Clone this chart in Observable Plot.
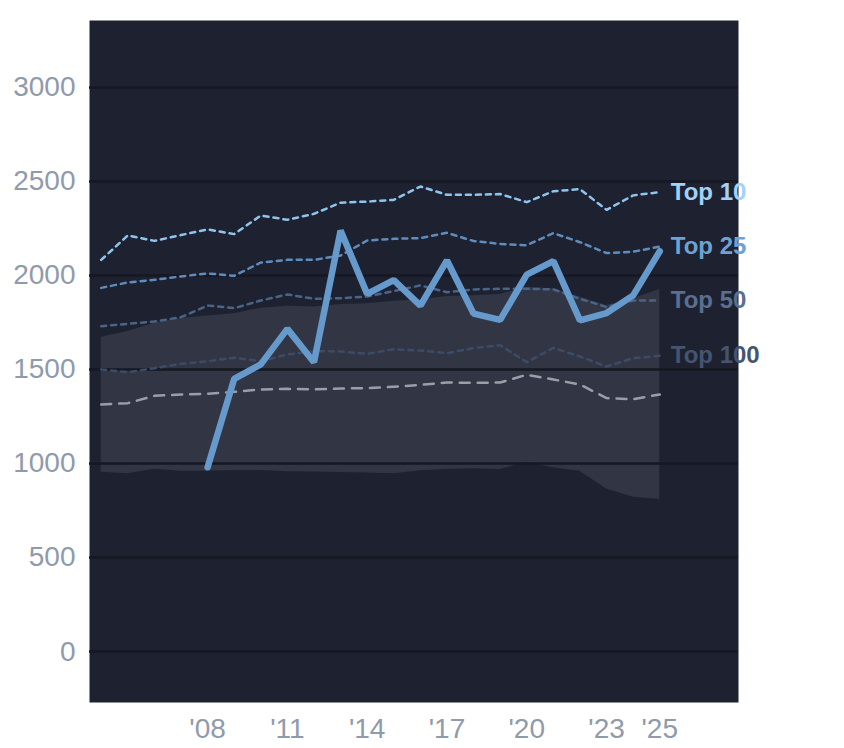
<!DOCTYPE html>
<html>
<head>
<meta charset="utf-8">
<script src="https://cdn.jsdelivr.net/npm/d3@7"></script>
<script src="https://cdn.jsdelivr.net/npm/@observablehq/plot@0.6"></script>
<style>
  html, body { margin: 0; padding: 0; background: #ffffff; }
  #chart svg { display: block; }
</style>
</head>
<body>
<div id="chart"></div>
<script>
const years = [2004, 2005, 2006, 2007, 2008, 2009, 2010, 2011, 2012, 2013, 2014, 2015, 2016, 2017, 2018, 2019, 2020, 2021, 2022, 2023, 2024, 2025];
const top10 = [2083, 2213, 2184, 2215, 2245, 2220, 2319, 2296, 2328, 2387, 2393, 2402, 2473, 2429, 2429, 2433, 2390, 2448, 2459, 2349, 2426, 2443];
const top25 = [1934, 1963, 1977, 1995, 2011, 1998, 2069, 2083, 2083, 2106, 2186, 2195, 2199, 2227, 2183, 2168, 2161, 2225, 2177, 2119, 2126, 2154];
const top50 = [1730, 1743, 1755, 1778, 1840, 1826, 1867, 1899, 1876, 1879, 1888, 1917, 1947, 1911, 1926, 1929, 1929, 1926, 1876, 1832, 1867, 1867];
const top100 = [1500, 1486, 1507, 1530, 1544, 1562, 1544, 1580, 1597, 1596, 1583, 1608, 1601, 1587, 1614, 1629, 1539, 1615, 1569, 1516, 1560, 1573];
const median = [1314, 1321, 1360, 1367, 1371, 1381, 1394, 1397, 1394, 1399, 1401, 1408, 1418, 1431, 1429, 1431, 1472, 1447, 1420, 1348, 1342, 1367];
const bandLow = [954, 945, 970, 959, 959, 963, 963, 956, 955, 952, 949, 945, 961, 968, 972, 968, 1005, 977, 959, 865, 821, 809];
const bandHigh = [1672, 1702, 1746, 1773, 1784, 1796, 1826, 1836, 1832, 1846, 1849, 1863, 1871, 1888, 1892, 1899, 1938, 1929, 1885, 1840, 1876, 1926];
const mainYears = [2008, 2009, 2010, 2011, 2012, 2013, 2014, 2015, 2016, 2017, 2018, 2019, 2020, 2021, 2022, 2023, 2024, 2025];
const mainValues = [980, 1450, 1527, 1716, 1539, 2239, 1902, 1975, 1840, 2080, 1797, 1764, 2005, 2076, 1761, 1800, 1894, 2129];
const seriesNames = ["Top 10", "Top 25", "Top 50", "Top 100"];
const yTicks = [0, 500, 1000, 1500, 2000, 2500, 3000];
const xTicks = [2008, 2011, 2014, 2017, 2020, 2023, 2025];

const rows = years.map((year, i) => ({year, top10: top10[i], top25: top25[i], top50: top50[i], top100: top100[i], median: median[i], low: bandLow[i], high: bandHigh[i]}));
const mainRows = mainYears.map((year, i) => ({year, value: mainValues[i]}));

const seriesKeys = ["top10", "top25", "top50", "top100"];
const lineColors = {top10: "#8fc4ee", top25: "#5e8dbd", top50: "#4a6487", top100: "#3c4b66"};
const labelColors = {top10: "#a2d2fc", top25: "#6ea2d6", top50: "#5a6f91", top100: "#455470"};
const last = years.length - 1;
const labelRows = seriesKeys.map((k, i) => ({name: seriesNames[i], key: k, year: years[last], value: rows[last][k]}));

const chart = Plot.plot({
  width: 844,
  height: 748,
  marginLeft: 89,
  marginRight: 106,
  marginTop: 20,
  marginBottom: 46,
  x: {domain: [2003.56, 2027.96]},
  y: {domain: [-271, 3356]},
  style: {fontFamily: "'Liberation Sans', Arial, sans-serif", background: "#ffffff", color: "#8f9aab", overflow: "visible"},
  marks: [
    Plot.frame({fill: "#1e2230", stroke: "none"}),
    Plot.areaY(rows, {x: "year", y1: "low", y2: "high", fill: "#323644"}),
    Plot.gridY(yTicks, {stroke: "#161922", strokeOpacity: 1, strokeWidth: 2.5}),
    Plot.lineY(rows, {x: "year", y: "median", stroke: "#9a9ea8", strokeWidth: 2.5, strokeDasharray: "10,8"}),
    Plot.lineY(rows, {x: "year", y: "top100", stroke: lineColors.top100, strokeWidth: 2.5, strokeDasharray: "5,5"}),
    Plot.lineY(rows, {x: "year", y: "top50", stroke: lineColors.top50, strokeWidth: 2.5, strokeDasharray: "5,5"}),
    Plot.lineY(rows, {x: "year", y: "top25", stroke: lineColors.top25, strokeWidth: 2.5, strokeDasharray: "5,5"}),
    Plot.lineY(rows, {x: "year", y: "top10", stroke: lineColors.top10, strokeWidth: 2.5, strokeDasharray: "5,5"}),
    Plot.lineY(mainRows, {x: "year", y: "value", stroke: "#6699cc", strokeWidth: 6.5, strokeLinejoin: "miter"}),
    Plot.text(labelRows, {x: "year", y: "value", text: "name", dx: 11, textAnchor: "start", fontWeight: "bold", fontSize: 24, fill: d => labelColors[d.key]}),
    Plot.axisY(yTicks, {tickSize: 0, tickPadding: 14, fontSize: 28, label: null, tickFormat: d => String(d)}),
    Plot.axisX(xTicks, {tickSize: 0, tickPadding: 16, fontSize: 28, label: null, tickFormat: d => "'" + String(d).slice(2)})
  ]
});
document.getElementById("chart").appendChild(chart);
</script>
</body>
</html>
